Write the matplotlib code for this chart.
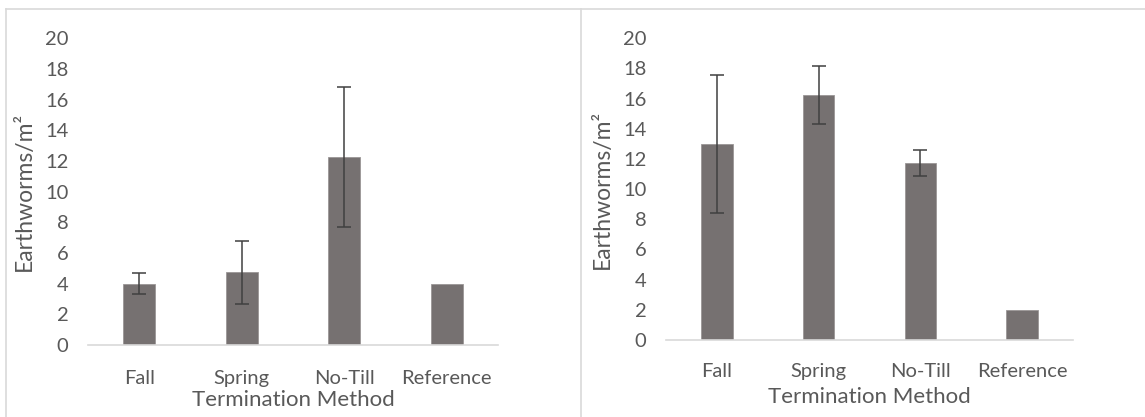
import numpy as np
import matplotlib.pyplot as plt
from matplotlib.lines import Line2D

plt.rcParams['font.family'] = ['Lato', 'DejaVu Sans']

metodos = ['Fall', 'Spring', 'No-Till', 'Reference']

# Primer panel
medias_1 = [4.0, 4.75, 12.25, 4.0]
error_1 = [0.7, 2.05, 4.57, 0.0]

# Segundo panel
medias_2 = [13.0, 16.25, 11.75, 2.0]
error_2 = [4.6, 1.9, 0.85, 0.0]

color_barra = '#767171'
color_texto = '#595959'
color_linea = '#d9d9d9'

fig = plt.figure(figsize=(11.45, 4.17), dpi=100)

# Marcos grises de cada panel
for xs, ys in [([6, 6], [9, 417]), ([6, 1145], [9, 9]), ([581, 581], [9, 417])]:
    fig.add_artist(Line2D(np.array(xs) / 1145, 1 - np.array(ys) / 417,
                          color=color_linea, lw=1.2))

ax1 = fig.add_axes([88 / 1145, 72 / 417, 410 / 1145, 306.7 / 417])
ax2 = fig.add_axes([666 / 1145, 77 / 417, 407 / 1145, 301.7 / 417])

paneles = [(ax1, medias_1, error_1, -0.179, -0.154, 18),
           (ax2, medias_2, error_2, -0.189, -0.157, 16.5)]

for ax, medias, err, y_xlab, x_ylab, pad_x in paneles:
    x = np.arange(len(metodos))
    ax.bar(x, medias, width=0.31, color=color_barra, edgecolor='#9a9696', linewidth=0.6, zorder=2)
    con_error = np.array(err) > 0
    ax.errorbar(x[con_error], np.array(medias)[con_error], yerr=np.array(err)[con_error],
                fmt='none', ecolor='#404040', elinewidth=1.1, capsize=5, capthick=1.1, zorder=3)
    ax.set_xlim(-0.5, 3.5)
    ax.set_ylim(0, 20)
    ax.set_yticks(range(0, 21, 2))
    ax.set_xticks(x)
    ax.set_xticklabels(metodos)
    for lado in ['top', 'right', 'left']:
        ax.spines[lado].set_visible(False)
    ax.spines['bottom'].set_color(color_linea)
    ax.spines['bottom'].set_linewidth(1.2)
    ax.tick_params(axis='both', length=0, labelsize=14.5, labelcolor=color_texto)
    ax.tick_params(axis='y', pad=14)
    ax.tick_params(axis='x', pad=pad_x, labelsize=14.5)
    ax.set_xlabel('Termination Method', fontsize=16, color=color_texto)
    ax.xaxis.label.set_va('center')
    ax.xaxis.set_label_coords(0.5, y_xlab)
    ax.set_ylabel('Earthworms/m²', fontsize=16.5, color=color_texto)
    ax.yaxis.label.set_va('center')
    ax.yaxis.set_label_coords(x_ylab, 0.5)

fig.savefig('out.png', dpi=100)
